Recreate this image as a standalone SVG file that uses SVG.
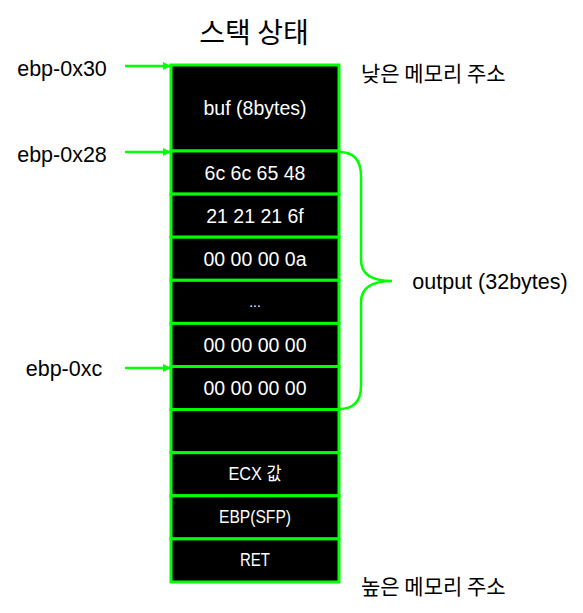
<svg xmlns="http://www.w3.org/2000/svg" width="583" height="613" viewBox="0 0 583 613">
<style>
.cell{fill:#000;stroke:#00ff00;stroke-width:3}
.ct{fill:#fff;font-family:"Liberation Sans","Noto Sans CJK KR",sans-serif;font-size:19.5px;text-anchor:middle;dominant-baseline:central}
.ct2{fill:#fff;font-family:"Liberation Sans","Noto Sans CJK KR",sans-serif;font-size:18px;text-anchor:middle;dominant-baseline:central}
.lbl{fill:#000;font-family:"Liberation Sans",sans-serif;font-size:21.5px;text-anchor:middle;dominant-baseline:central}
.kr{fill:#000;font-family:"Noto Sans CJK KR",sans-serif;font-size:21px;dominant-baseline:central}
.con{stroke:#00ff00;stroke-width:2.5;fill:none}
</style>
<defs>
<marker id="ah" viewBox="0 0 10 10" refX="10" refY="5" markerWidth="9" markerHeight="8" markerUnits="userSpaceOnUse" orient="auto">
<path d="M0,0 L10,5 L0,10 z" fill="#00ff00"/>
</marker>
</defs>
<text id="title" x="254" y="31" style="font-family:'Noto Sans CJK KR',sans-serif;font-size:28px;text-anchor:middle;dominant-baseline:central;fill:#000">스택 상태</text>
<g id="stack">
<g id="c-buf"><rect class="cell" x="171" y="65" width="168" height="86"/><text class="ct" x="255" y="108">buf (8bytes)</text></g>
<g id="c1"><rect class="cell" x="171" y="151" width="168" height="43.1"/><text class="ct" x="255" y="172.5">6c 6c 65 48</text></g>
<g id="c2"><rect class="cell" x="171" y="194.1" width="168" height="43.1"/><text class="ct" x="255" y="215.6">21 21 21 6f</text></g>
<g id="c3"><rect class="cell" x="171" y="237.2" width="168" height="43.1"/><text class="ct" x="255" y="258.7">00 00 00 0a</text></g>
<g id="c4"><rect class="cell" x="171" y="280.3" width="168" height="43.1"/><text class="ct" x="255" y="301.8" style="font-size:14px">...</text></g>
<g id="c5"><rect class="cell" x="171" y="323.4" width="168" height="43.1"/><text class="ct" x="255" y="344.9">00 00 00 00</text></g>
<g id="c6"><rect class="cell" x="171" y="366.5" width="168" height="43.1"/><text class="ct" x="255" y="388">00 00 00 00</text></g>
<g id="c7"><rect class="cell" x="171" y="409.6" width="168" height="43.1"/></g>
<g id="c8"><rect class="cell" x="171" y="452.7" width="168" height="43.1"/><text class="ct2" x="255" y="474.2" textLength="53" lengthAdjust="spacingAndGlyphs">ECX 값</text></g>
<g id="c9"><rect class="cell" x="171" y="495.8" width="168" height="43.1"/><text class="ct2" x="255" y="517.3" textLength="72" lengthAdjust="spacingAndGlyphs">EBP(SFP)</text></g>
<g id="c10"><rect class="cell" x="171" y="538.9" width="168" height="43.1"/><text class="ct2" x="255" y="560.4" textLength="30" lengthAdjust="spacingAndGlyphs">RET</text></g>
</g>
<g id="labels">
<text id="l1" class="lbl" x="62" y="69">ebp-0x30</text>
<text id="l2" class="lbl" x="62" y="155">ebp-0x28</text>
<text id="l3" class="lbl" x="64" y="369">ebp-0xc</text>
<text id="low" class="kr" x="361" y="72">낮은 메모리 주소</text>
<text id="high" class="kr" x="361" y="585">높은 메모리 주소</text>
<text id="out" class="lbl" x="490" y="282">output (32bytes)</text>
</g>
<g id="connectors">
<line class="con" x1="125" y1="66" x2="171" y2="66" marker-end="url(#ah)"/>
<line class="con" x1="125" y1="152" x2="171" y2="152" marker-end="url(#ah)"/>
<line class="con" x1="125" y1="368" x2="171" y2="368" marker-end="url(#ah)"/>
<path class="con" d="M339,152 Q361,152 361,176 L361,260 Q361,281 392,281 Q361,281 361,302 L361,386 Q361,409 339,409"/>
</g>
</svg>
